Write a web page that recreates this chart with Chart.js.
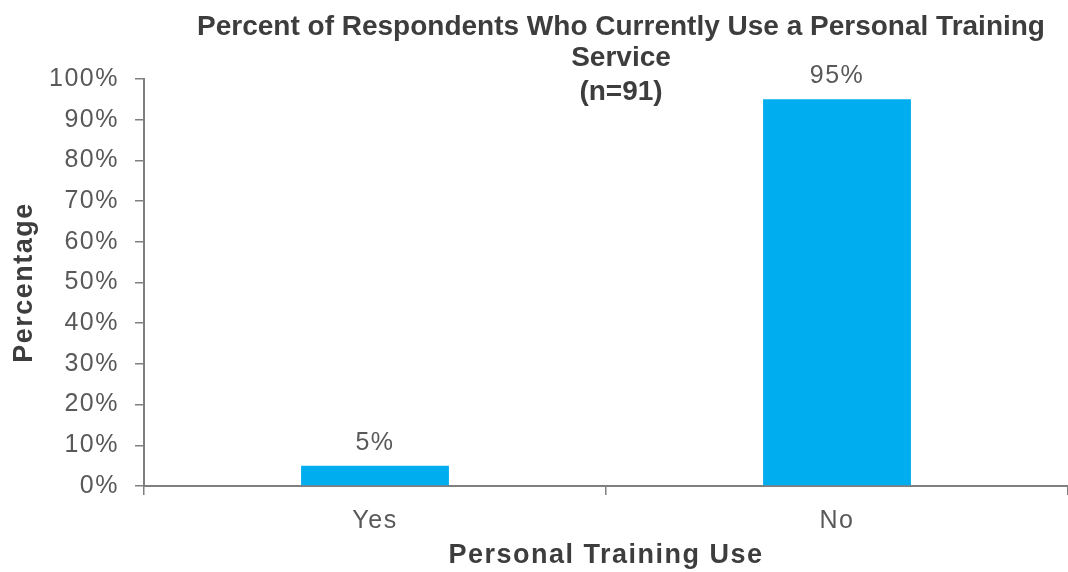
<!DOCTYPE html>
<html>
<head>
<meta charset="utf-8">
<script src="https://cdn.jsdelivr.net/npm/chart.js@4/dist/chart.umd.min.js"></script>
<style>
  html, body { margin: 0; padding: 0; background: #fff; }
  #wrap { width: 1068px; height: 572px; }
</style>
</head>
<body>
<div id="wrap"><canvas id="myChart" width="1068" height="572"></canvas></div>
<script>
var categories = ['Yes', 'No'];
var usePercent = [5, 95];
var titleLines = ['Percent of Respondents Who Currently Use a Personal Training', 'Service', '(n=91)'];

var FONT = "'Liberation Sans', Arial, sans-serif";

// wider letter spacing for the axis text
var spacing = {
    id: 'spacing',
    beforeDraw: function (chart) {
        chart.ctx.letterSpacing = '1.5px';
    }
};

// title and value labels drawn by hand so they can sit over the plot area
var overlayText = {
    id: 'overlayText',
    afterDraw: function (chart) {
        var ctx = chart.ctx;
        ctx.save();
        ctx.textAlign = 'center';
        ctx.textBaseline = 'middle';

        ctx.letterSpacing = '1.5px';
        ctx.fillStyle = '#595959';
        ctx.font = '25px ' + FONT;
        var meta = chart.getDatasetMeta(0);
        meta.data.forEach(function (bar, i) {
            ctx.fillText(usePercent[i] + '%', bar.x, bar.y - 23);
        });

        ctx.letterSpacing = '0px';
        ctx.fillStyle = '#3d3d3d';
        ctx.font = 'bold 28px ' + FONT;
        var ys = [27, 58, 92];
        titleLines.forEach(function (line, i) {
            ctx.fillText(line, 621, ys[i]);
        });
        ctx.restore();
    }
};

const data = {
    labels: categories,
    datasets: [{
        data: usePercent,
        backgroundColor: '#00aeef',
        borderWidth: 0,
        barPercentage: 0.64,
        categoryPercentage: 0.5
    }]
};

const config = {
    type: 'bar',
    data: data,
    options: {
        responsive: false,
        animation: false,
        layout: { padding: { top: 79, right: 0, bottom: 0, left: 8 } },
        plugins: {
            legend: { display: false },
            tooltip: { enabled: false }
        },
        scales: {
            x: {
                offset: true,
                border: { color: '#7f7f7f', width: 2 },
                grid: { offset: true, drawOnChartArea: false, drawTicks: true, tickLength: 9, color: '#7f7f7f', lineWidth: 1.5 },
                ticks: { color: '#595959', font: { family: FONT, size: 25 }, padding: 11 },
                title: { display: true, text: 'Personal Training Use', color: '#3d3d3d', font: { family: FONT, size: 27, weight: 'bold' }, padding: 0 },
                afterFit: function (s) { s.height = 86; }
            },
            y: {
                min: 0,
                max: 100,
                border: { color: '#7f7f7f', width: 2 },
                grid: { drawOnChartArea: false, drawTicks: true, tickLength: 9, color: '#7f7f7f', lineWidth: 1.5 },
                ticks: {
                    stepSize: 10,
                    color: '#595959',
                    font: { family: FONT, size: 25 },
                    padding: 16,
                    callback: function (v) { return v + '%'; }
                },
                title: { display: true, text: 'Percentage', color: '#3d3d3d', font: { family: FONT, size: 27, weight: 'bold' }, padding: 0 },
                afterFit: function (s) { s.width = 136; }
            }
        }
    },
    plugins: [spacing, overlayText]
};

const myChart = new Chart(document.getElementById('myChart'), config);
</script>
</body>
</html>
